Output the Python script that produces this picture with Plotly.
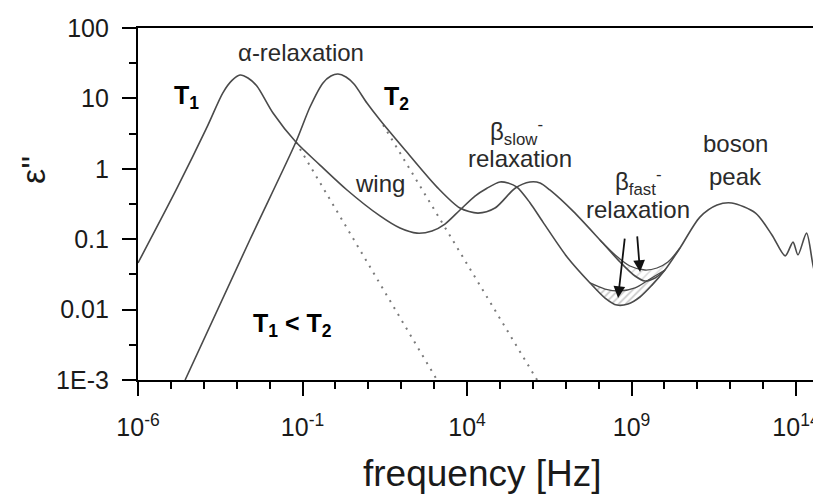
import numpy as np
import plotly.graph_objects as go

# ---- data (frequency in Hz, epsilon'') ----
t1_freq = [1.0e-6, 1.53e-5, 1.25e-4, 3.8e-4, 7.2e-4, 1.26e-3, 2.2e-3, 4.1e-3, 1.27e-2, 6.3e-2,
           0.34, 2.25, 22.7, 92, 302, 863, 2140, 6120, 1.75e4, 4.05e4,
           1.0e5, 1.76e5, 3.3e5, 8.2e5, 2.04e6, 1.1e7, 5.5e7, 1.57e8, 3.6e8, 7.8e8,
           1.81e9, 4.2e9, 1.04e10, 2.98e10, 1.2e11, 4.0e11, 1.12e12, 5.9e12, 1.86e13, 4.7e13,
           8.1e13, 1.15e14, 2.1e14, 3.8e14, 6.2e14]
t1_eps = [0.046, 0.53, 3.9, 12, 18, 21.5, 19.5, 15, 6.2, 2.4,
          1.13, 0.50, 0.214, 0.144, 0.122, 0.131, 0.164, 0.26, 0.41, 0.53,
          0.65, 0.63, 0.55, 0.33, 0.175, 0.056, 0.0239, 0.0146, 0.0116, 0.012,
          0.0151, 0.0223, 0.0365, 0.075, 0.206, 0.306, 0.327, 0.235, 0.115, 0.058,
          0.091, 0.060, 0.122, 0.033, 0.083]

t2_freq = [2.7e-5, 2.5e-3, 6.3e-2, 0.169, 0.42, 0.73, 1.2, 2.1, 3.67, 9.1,
           22.7, 131, 1225, 6120, 2.16e4, 7.1e4, 2.9e5, 8.2e5, 1.66e6, 3.3e6,
           1.67e7, 1.1e8, 4.5e8, 1.28e9, 2.57e9, 5.2e9, 1.04e10]
t2_eps = [0.001, 0.0975, 2.4, 7.55, 16.6, 20.8, 22.2, 20.1, 16, 8.6,
          4.93, 1.85, 0.55, 0.277, 0.235, 0.277, 0.53, 0.65, 0.63, 0.50,
          0.25, 0.0975, 0.0474, 0.030, 0.0255, 0.0281, 0.0365]

# upper edges of the beta_fast bands
t1b_freq = [5.5e7, 1.57e8, 4.5e8, 1.28e9, 3.65e9, 1.04e10]
t1b_eps = [0.0239, 0.0196, 0.0184, 0.0203, 0.0272, 0.0365]
t2b_freq = [1.1e8, 3.2e8, 9.0e8, 2.57e9, 5.96e9, 1.28e10, 2.98e10]
t2b_eps = [0.0975, 0.0597, 0.0416, 0.0365, 0.039, 0.0474, 0.075]

# dotted alpha-relaxation extrapolations
dot1_freq = [0.063, 1230]
dot1_eps = [2.4, 0.001]
dot2_freq = [28.2, 1.35e6]
dot2_eps = [4.2, 0.001]

# arrows (tail -> head)
arrow_tail_freq = [6.3e8, 1.48e9]
arrow_tail_eps = [0.107, 0.115]
arrow_head_freq = [3.9e8, 1.82e9]
arrow_head_eps = [0.0146, 0.0342]

# text labels
label_text = ["α-relaxation", "wing", "β<sub>slow</sub><sup>-</sup>", "relaxation",
              "β<sub>fast</sub><sup>-</sup>", "relaxation", "boson", "peak"]
label_freq = [0.09, 22.7, 3.3e5, 4.1e5, 1.58e9, 1.58e9, 1.41e12, 1.41e12]
label_eps = [45.6, 0.61, 3.33, 1.38, 0.65, 0.26, 2.32, 0.79]

bold_text = ["T<sub>1</sub>", "T<sub>2</sub>", "T<sub>1</sub> < T<sub>2</sub>"]
bold_freq = [2.9e-5, 74, 0.051]
bold_eps = [10.5, 10.1, 0.0060]

x_tickvals = [1e-6, 1e-1, 1e4, 1e9, 1e14]
x_ticktext = ["10<sup>-6</sup>", "10<sup>-1</sup>", "10<sup>4</sup>", "10<sup>9</sup>", "10<sup>14</sup>"]
x_minor = [10.0 ** k for k in range(-6, 15) if k % 5 != 4]
y_tickvals = [1e-3, 1e-2, 1e-1, 1, 10, 100]
y_ticktext = ["1E-3", "0.01", "0.1", "1", "10", "100"]
y_minor = [3.16e-3, 3.16e-2, 3.16e-1, 3.16, 31.6]

FONT = "Liberation Sans, Arial, sans-serif"
LINE = "#4a4a4a"

fig = go.Figure()

# hatched bands
def band(upper_f, upper_e, main_f, main_e):
    lo, hi = min(upper_f), max(upper_f)
    sel = [(f, e) for f, e in zip(main_f, main_e) if lo <= f <= hi]
    xs = list(upper_f) + [f for f, _ in reversed(sel)]
    ys = list(upper_e) + [e for _, e in reversed(sel)]
    return xs, ys

bx, by = band(t1b_freq, t1b_eps, t1_freq, t1_eps)
fig.add_trace(go.Scatter(x=bx, y=by, mode="lines", fill="toself", line=dict(width=0, shape="spline"),
                         fillcolor="rgba(255,255,255,0)",
                         fillpattern=dict(shape="/", fgcolor="#9a9a9a", size=5, solidity=0.35),
                         hoverinfo="skip", showlegend=False))
bx2, by2 = band(t2b_freq, t2b_eps, t2_freq, t2_eps)
fig.add_trace(go.Scatter(x=bx2, y=by2, mode="lines", fill="toself", line=dict(width=0, shape="spline"),
                         fillcolor="rgba(255,255,255,0)",
                         fillpattern=dict(shape="/", fgcolor="#b5b5b5", size=6, solidity=0.25),
                         hoverinfo="skip", showlegend=False))

for fx, fy in [(dot1_freq, dot1_eps), (dot2_freq, dot2_eps)]:
    fig.add_trace(go.Scatter(x=fx, y=fy, mode="lines",
                             line=dict(color="#7a7a7a", width=2, dash="2px,6px"),
                             showlegend=False, hoverinfo="skip"))

for fx, fy, w in [(t1b_freq, t1b_eps, 1.3), (t2b_freq, t2b_eps, 1.3),
                  (t2_freq, t2_eps, 1.6), (t1_freq, t1_eps, 1.6)]:
    fig.add_trace(go.Scatter(x=fx, y=fy, mode="lines",
                             line=dict(color=LINE, width=w, shape="spline", smoothing=0.8),
                             showlegend=False, hoverinfo="skip"))

# page body has an 8px margin: the figure is shrunk by that so the plot lands where the reference has it
OFF = 8
L, T, B = 138 - OFF, 28 - OFF, 119
PW, PH = 683, 352

ann = []
for t, f, e in zip(label_text, label_freq, label_eps):
    ann.append(dict(x=np.log10(f), y=np.log10(e), xref="x", yref="y", text=t, showarrow=False,
                    font=dict(family=FONT, size=24, color="#2a2a2a"), xanchor="center", yanchor="middle"))
for t, f, e in zip(bold_text, bold_freq, bold_eps):
    ann.append(dict(x=np.log10(f), y=np.log10(e), xref="x", yref="y", text="<b>" + t + "</b>",
                    showarrow=False, font=dict(family=FONT, size=25, color="#000000"),
                    xanchor="center", yanchor="middle"))
for tf, te, hf, he in zip(arrow_tail_freq, arrow_tail_eps, arrow_head_freq, arrow_head_eps):
    ann.append(dict(x=np.log10(hf), y=np.log10(he), ax=np.log10(tf), ay=np.log10(te),
                    xref="x", yref="y", axref="x", ayref="y", text="", showarrow=True,
                    arrowhead=2, arrowsize=1.3, arrowwidth=1.8, arrowcolor="#111111", standoff=0))
ann.append(dict(x=(482 - 138) / PW, y=(380 - 473) / PH, xref="paper", yref="paper",
                text="frequency [Hz]", showarrow=False,
                font=dict(family=FONT, size=37, color="#1a1a1a"), xanchor="center", yanchor="middle"))
ann.append(dict(x=(33 - 138) / PW, y=(380 - 170) / PH, xref="paper", yref="paper",
                text="ε''", textangle=-90, showarrow=False,
                font=dict(family=FONT, size=34, color="#1a1a1a"), xanchor="center", yanchor="middle"))

fig.update_layout(
    width=L + PW, height=T + PH + B,
    margin=dict(l=L, r=0, t=T, b=B, autoexpand=False),
    paper_bgcolor="white", plot_bgcolor="white",
    annotations=ann,
    xaxis=dict(type="log", range=[-6, 14.76], showgrid=False, zeroline=False, automargin=False,
               showline=True, linecolor="#000", linewidth=2.2, mirror=True,
               tickmode="array", tickvals=x_tickvals, ticktext=x_ticktext,
               ticks="outside", ticklen=14, tickwidth=2, tickcolor="#000",
               ticklabelstandoff=10,
               tickfont=dict(family=FONT, size=25, color="#1a1a1a"),
               minor=dict(tickmode="array", tickvals=x_minor, ticks="outside",
                          ticklen=7, tickwidth=2, tickcolor="#000", showgrid=False)),
    yaxis=dict(type="log", range=[-3, 2], showgrid=False, zeroline=False, automargin=False,
               showline=True, linecolor="#000", linewidth=2.2, mirror=False,
               tickmode="array", tickvals=y_tickvals, ticktext=y_ticktext,
               ticks="outside", ticklen=14, tickwidth=2, tickcolor="#000",
               ticklabelstandoff=8,
               tickfont=dict(family=FONT, size=25, color="#1a1a1a"),
               minor=dict(tickmode="array", tickvals=y_minor, ticks="outside",
                          ticklen=7, tickwidth=2, tickcolor="#000", showgrid=False)),
)

fig.write_html("out.html")
